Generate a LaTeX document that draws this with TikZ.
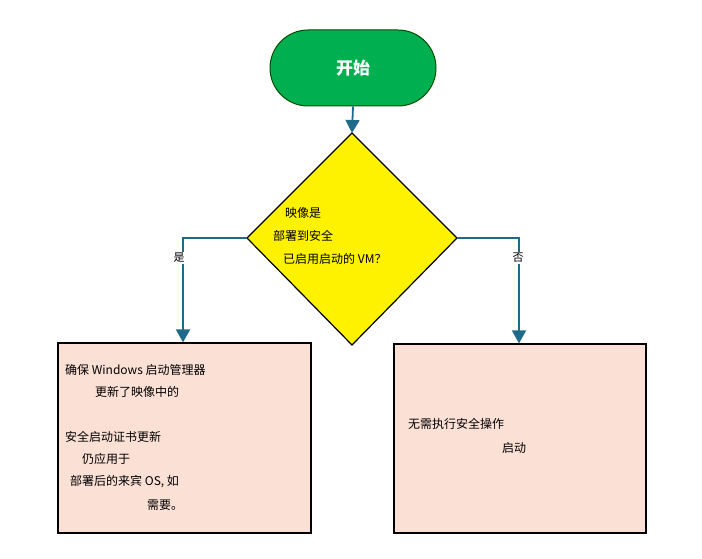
\documentclass[tikz,border=0pt]{standalone}
\usepackage{fontspec}
\setmainfont{Noto Sans CJK SC}
\usetikzlibrary{arrows.meta}
\definecolor{arr}{HTML}{1F6A8A}
\definecolor{boxf}{HTML}{FBE0D5}
\definecolor{startg}{HTML}{00B050}
\begin{document}
\begin{tikzpicture}[x=1pt,y=-1pt,
  conn/.style={draw=arr,line width=1.8pt,-{Triangle[length=13pt,width=14pt]}},
  lab/.style={font=\fontsize{11}{12}\selectfont,fill=white,inner sep=1pt},
  txt/.style={font=\fontsize{12}{12}\selectfont,anchor=west,inner sep=0pt}]
\useasboundingbox (0,0) rectangle (702,559);
\node[draw=black!70!green,line width=1pt,fill=startg,rounded corners=38pt,minimum width=166pt,minimum height=76pt,text=white,font=\fontsize{17}{18}\selectfont\bfseries] (s) at (353,68) {开始};
\draw[fill=yellow,line width=1.2pt] (352,133) coordinate (dt) -- (457,238) coordinate (dr) -- (352,345) coordinate (db) -- (247,238) coordinate (dl) -- cycle;
\node[draw,line width=1.2pt,fill=boxf,minimum width=253pt,minimum height=190pt] (L) at (184.5,438) {};
\node[draw,line width=1.2pt,fill=boxf,minimum width=252pt,minimum height=189pt] (R) at (520,438.5) {};
\draw[conn] (s.south) -- (dt);
\draw[conn] (dl) -| (L.north -| 183,0);
\draw[conn] (dr) -| (R.north -| 519,0);
\node[lab] (yes) at (179,258) {是};
\node[lab] (no) at (518,258) {否};
\node[txt] (d1) at (285,213) {映像是};
\node[txt] (d2) at (273,236) {部署到安全};
\node[txt] (d3) at (283,259) {已启用启动的 VM？};
\node[txt] (l1) at (65,370) {确保 Windows 启动管理器};
\node[txt] (l2) at (95,392) {更新了映像中的};
\node[txt] (l3) at (65,437) {安全启动证书更新};
\node[txt] (l4) at (82,459) {仍应用于};
\node[txt] (l5) at (70,482) {部署后的来宾 OS, 如};
\node[txt] (l6) at (147,505) {需要。};
\node[txt] (r1) at (408,424) {无需执行安全操作};
\node[txt] (r2) at (502,448) {启动};
\end{tikzpicture}
\end{document}
